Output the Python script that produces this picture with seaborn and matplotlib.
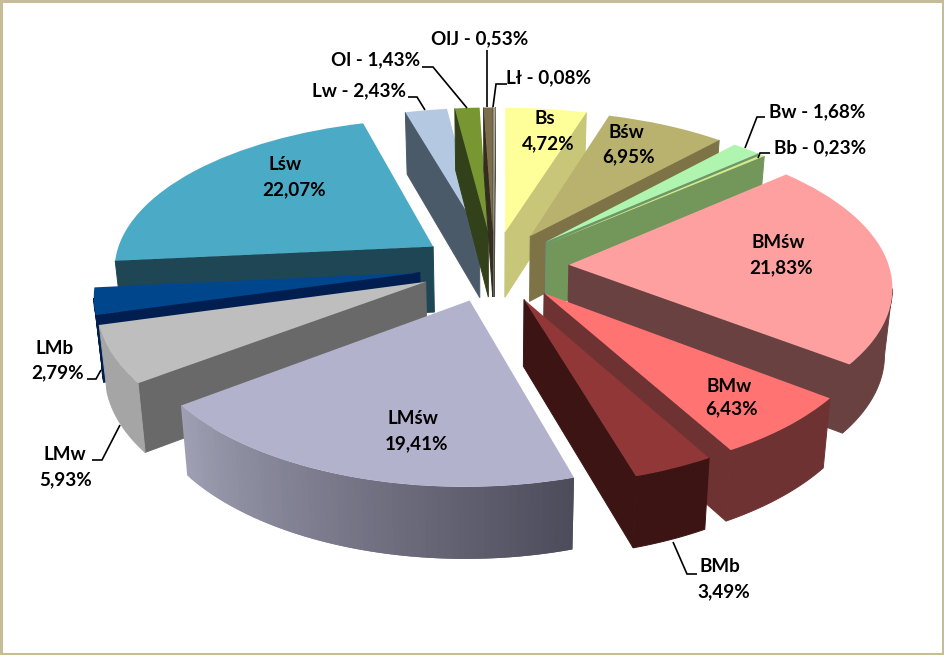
import numpy as np
import matplotlib
matplotlib.use("Agg")
import matplotlib.pyplot as plt
import seaborn as sns
from matplotlib.transforms import Transform
from matplotlib.colors import to_rgb
from matplotlib.patches import Rectangle, Polygon

categories = ["Bs", "Bśw", "Bw", "Bb", "BMśw", "BMw", "BMb", "LMśw", "LMw", "LMb", "Lśw", "Lw", "Ol", "OlJ", "Lł"]
shares = [4.72, 6.95, 1.68, 0.23, 21.83, 6.43, 3.49, 19.41, 5.93, 2.79, 22.07, 2.43, 1.43, 0.53, 0.08]
top_colors = ["#FFFF99", "#B8B26E", "#AFF5AF", "#D2EB8C", "#FFA0A0", "#FF7373", "#913737", "#B2B2CD",
              "#BEBEBE", "#00468C", "#4BAAC5", "#B4C8E1", "#789632", "#7D6E4B", "#AAAA96"]
cut_colors = ["#C8C678", "#7D7346", "#6E9669", "#73965A", "#694141", "#6E3232", "#3C1414", "#4B4B5A",
              "#696969", "#001E50", "#1E4655", "#4B5A69", "#324119", "#322D1E", "#505046"]
arc_start = ["#C8C678", "#7D7346", "#6E9669", "#73965A", "#694141", "#6E3232", "#3C1414", "#A0A0B4",
             "#A5A5A5", "#001E50", "#1E4655", "#4B5A69", "#324119", "#322D1E", "#505046"]
arc_end = ["#C8C678", "#7D7346", "#6E9669", "#73965A", "#694141", "#6E3232", "#3C1414", "#4B4B5A",
           "#A5A5A5", "#001E50", "#1E4655", "#4B5A69", "#324119", "#322D1E", "#505046"]
draw_order = ["Lw", "Ol", "OlJ", "Lł", "Bs", "Bśw", "Bw", "Bb", "Lśw", "LMb", "BMśw", "LMw", "BMw", "BMb", "LMśw"]

inner_labels = {
    "Bs": ((545, 119), (548, 144)), "Bśw": ((626, 133), (629, 157)),
    "BMśw": ((778, 243), (781, 268)), "BMw": ((729, 386), (732, 409)),
    "BMb": ((720, 567), (724, 592)), "LMśw": ((413, 419), (416, 444)),
    "LMw": ((65, 455), (66, 480)), "LMb": ((55, 348), (58, 373)),
    "Lśw": ((285, 165), (294, 190)),
}
inline_labels = {"Lw": (359, 91), "Ol": (376, 60), "OlJ": (480, 39), "Lł": (548, 78),
                 "Bw": (817, 112), "Bb": (820, 148)}
leaders = [
    [(408, 97), (417, 97), (425, 110)], [(422, 67), (433, 67), (467, 108)], [(487, 50), (487, 107)],
    [(507, 84), (496, 84), (493, 107)], [(765, 117), (757, 117), (745, 148)], [(770, 153), (760, 153), (758, 158)],
    [(673, 542), (687, 574), (697, 574)], [(120, 425), (102, 460), (92, 460)], [(101, 370), (96, 379), (87, 379)],
]

RADIUS, EXPLODE = 320.0, 75.0
CX, CY, P, PX, K, DEPTH = 494.0, 266.0, 0.00043, 0.00040, 0.4695, 66.0


def project(x, y, z=0.0):
    w = 1.0 / (1.0 + P * y)
    wx = 1.0 / (1.0 + PX * y)
    return CX + x * wx * (1 - 0.02 * z) + 0.004 * y, CY - K * y * w + z * DEPTH * (1 + 0.45 * (w - 1))


def faces_viewer(a, b, inner):
    """True when the wall hanging below screen edge a-b is not covered by its own top face."""
    ex, ey = b[0] - a[0], b[1] - a[1]
    side_down = ex * 1.0
    side_inner = ex * (inner[1] - a[1]) - ey * (inner[0] - a[0])
    return side_down * side_inner < 0


class Ground(Transform):
    input_dims = output_dims = 2
    is_affine = False
    has_inverse = False

    def transform_non_affine(self, values):
        values = np.asarray(values, dtype=float)
        return np.column_stack(project(values[:, 0], values[:, 1]))


sns.set_theme(style="white")
plt.rcParams["font.family"] = ["Lato", "DejaVu Sans"]
plt.rcParams["font.weight"] = "bold"

fig = plt.figure(figsize=(9.44, 6.55), dpi=100, facecolor="white")
ax = fig.add_axes([0, 0, 1, 1])
palette = sns.color_palette(top_colors)
wedges, _ = ax.pie(shares, explode=[EXPLODE] * len(shares), radius=RADIUS, colors=palette,
                   startangle=90, counterclock=False, wedgeprops={"linewidth": 0})
ax.set_aspect("auto")
ax.set_xlim(0, 944)
ax.set_ylim(655, 0)
ax.axis("off")
ground = Ground() + ax.transData

for name, wedge, cut, a0, a1 in zip(categories, wedges, cut_colors, arc_start, arc_end):
    base = 10 + 3 * draw_order.index(name)
    wedge.set_transform(ground)
    wedge.set_zorder(base + 2)
    wedge.set_clip_on(False)
    cxw, cyw = wedge.center
    angles = np.radians(np.arange(wedge.theta1, wedge.theta2, 0.5))
    angles = np.append(angles, np.radians(wedge.theta2))
    xs = cxw + RADIUS * np.cos(angles)
    ys = cyw + RADIUS * np.sin(angles)
    apex = project(cxw, cyw)
    mid = len(angles) // 2
    inner = project((cxw + xs[mid]) / 2, (cyw + ys[mid]) / 2)
    # radial cut faces: only those turned towards the viewer
    for xe, ye in ((xs[0], ys[0]), (xs[-1], ys[-1])):
        corner = project(xe, ye)
        if not faces_viewer(apex, corner, inner):
            continue
        quad = [apex, corner, project(xe, ye, 1), project(cxw, cyw, 1)]
        ax.add_patch(Polygon(quad, closed=True, facecolor=cut, edgecolor=cut, lw=0.7, zorder=base))
    # outer rim: each strip runs on under the next one, so no seams show
    c0, c1 = np.array(to_rgb(a0)), np.array(to_rgb(a1))
    visible = [i for i in range(len(angles) - 1)
               if faces_viewer(project(xs[i], ys[i]), project(xs[i + 1], ys[i + 1]), apex)]
    if not visible:
        continue
    if a0 == a1:
        groups = [visible]
    else:
        groups = [visible[j:j + 4] for j in range(0, len(visible), 2)]
    for g in groups:
        idx = list(g) + [g[-1] + 1]
        upper = [project(xs[i], ys[i], 0) for i in idx]
        lower = [project(xs[i], ys[i], 1) for i in idx[::-1]]
        t = (g[0] + 1.0) / max(1, len(angles) - 1)
        col = tuple(c0 + (c1 - c0) * t)
        solid = a0 == a1
        ax.add_patch(Polygon(upper + lower, closed=True, facecolor=col, edgecolor=col if solid else "none",
                             lw=0.7 if solid else 0, zorder=base + 1))

FS = 13.6
for name, value in zip(categories, shares):
    txt = f"{value:.2f}%".replace(".", ",")
    if name in inner_labels:
        (x0, y0), (x1, y1) = inner_labels[name]
        ax.text(x0, y0, name, ha="center", va="center", fontsize=FS, fontweight="bold", color="black", zorder=100)
        ax.text(x1, y1, txt, ha="center", va="center", fontsize=FS, fontweight="bold", color="black", zorder=100)
    else:
        x0, y0 = inline_labels[name]
        ax.text(x0, y0, f"{name} - {txt}", ha="center", va="center", fontsize=FS, fontweight="bold",
                color="black", zorder=100)

for line in leaders:
    px, py = zip(*line)
    ax.plot(px, py, color="black", lw=1.2, zorder=90, solid_capstyle="butt", solid_joinstyle="miter")

ax.add_patch(Rectangle((1.2, 1.2), 941.6, 652.6, fill=False, edgecolor="#C4BD97", lw=2.2, zorder=200, clip_on=False))
fig.savefig("out.png", dpi=100, facecolor="white")
